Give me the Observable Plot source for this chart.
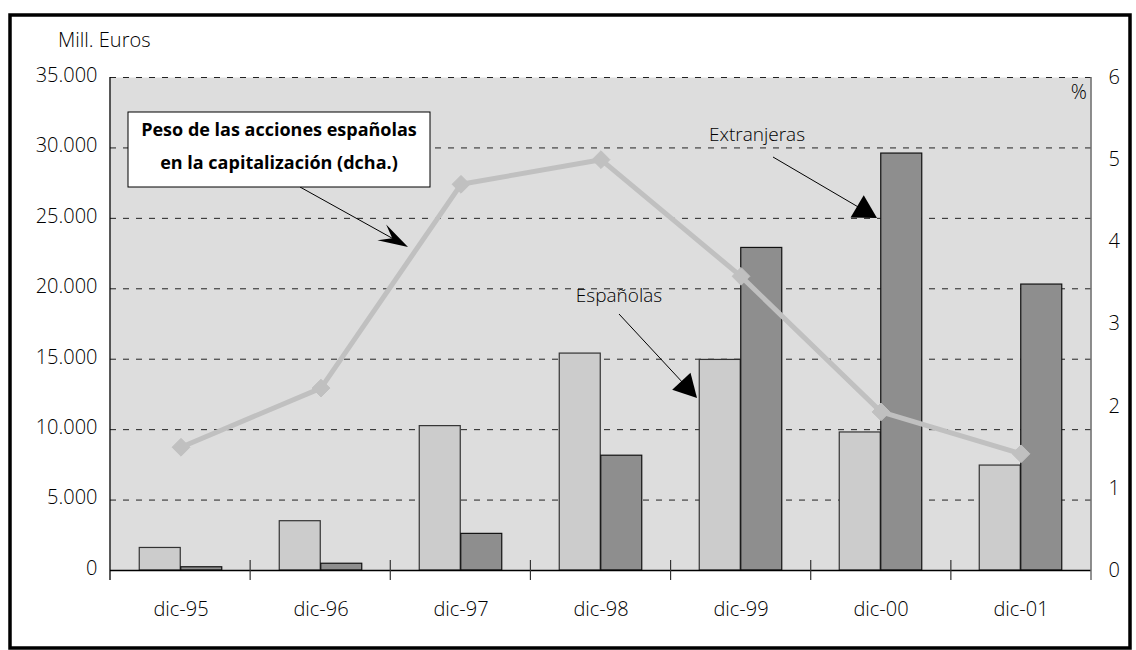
<!DOCTYPE html>
<html>
<head>
<meta charset="utf-8">
<script src="https://cdn.jsdelivr.net/npm/d3@7"></script>
<script src="https://cdn.jsdelivr.net/npm/@observablehq/plot@0.6"></script>
<style>
  html, body { margin: 0; padding: 0; background: #ffffff; }
  #chart { width: 1136px; height: 650px; }
  #chart svg { display: block; }
</style>
</head>
<body>
<div id="chart"></div>
<script>
// ---- Data ----
const categories = ["dic-95", "dic-96", "dic-97", "dic-98", "dic-99", "dic-00", "dic-01"];
const espanolas  = [1600, 3500, 10250, 15400, 14950, 9800, 7450];      // Mill. Euros
const extranjeras = [230, 480, 2600, 8150, 22900, 29600, 20300];       // Mill. Euros
const pesoEsp    = [1.50, 2.22, 4.70, 5.00, 3.58, 1.93, 1.42];          // % (right axis)
const leftTicks  = [0, 5000, 10000, 15000, 20000, 25000, 30000, 35000];
const rightTicks = [0, 1, 2, 3, 4, 5, 6];

const leftMax = 35000, rightMax = 6;
const ratio = leftMax / rightMax; // maps right-axis % onto the left scale

const rows = categories.map((c, i) => ({cat: c, esp: espanolas[i], ext: extranjeras[i], peso: pesoEsp[i]}));

const esLocale = d3.formatLocale({decimal: ",", thousands: ".", grouping: [3], currency: ["", " €"]});
const fmtLeft = esLocale.format(",.0f");

const FONT = "'Open Sans', 'Noto Sans', sans-serif";

// ---- Decorations: frame, plot borders, category ticks, annotations ----
function overlay(index, scales, values, dim) {
  const g = d3.create("svg:g");
  const L = dim.marginLeft, R = dim.width - dim.marginRight;
  const T = dim.marginTop, B = dim.height - dim.marginBottom;
  // outer frame
  g.append("rect").attr("x", 10).attr("y", 15).attr("width", 1120).attr("height", 633)
    .attr("fill", "none").attr("stroke", "#000").attr("stroke-width", 3.5);
  // plot borders
  g.append("line").attr("x1", L).attr("x2", L).attr("y1", T).attr("y2", B + 10)
    .attr("stroke", "#000").attr("stroke-width", 1.3);
  g.append("line").attr("x1", R).attr("x2", R).attr("y1", T).attr("y2", B + 10)
    .attr("stroke", "#6e6e6e").attr("stroke-width", 1.5);
  // category separator ticks (cross)
  const n = categories.length, step = (R - L) / n;
  for (let i = 1; i < n; i++) {
    const x = L + i * step;
    g.append("line").attr("x1", x).attr("x2", x).attr("y1", B - 10).attr("y2", B + 10)
      .attr("stroke", "#333").attr("stroke-width", 1.2);
  }
  // arrows
  function arrow(x1, y1, x2, y2, len, hw, stealth) {
    const dx = x2 - x1, dy = y2 - y1, d = Math.hypot(dx, dy);
    const ux = dx / d, uy = dy / d, px = -uy, py = ux;
    const bx = x2 - ux * len, by = y2 - uy * len;
    g.append("line").attr("x1", x1).attr("y1", y1).attr("x2", x2 - ux * len * 0.6).attr("y2", y2 - uy * len * 0.6)
      .attr("stroke", "#000").attr("stroke-width", 1);
    let pts;
    if (stealth) {
      const nx = x2 - ux * len * 0.6, ny = y2 - uy * len * 0.6;
      pts = [[x2, y2], [bx + px * hw, by + py * hw], [nx, ny], [bx - px * hw, by - py * hw]];
    } else {
      pts = [[x2, y2], [bx + px * hw, by + py * hw], [bx - px * hw, by - py * hw]];
    }
    g.append("polygon").attr("points", pts.map(p => p.join(",")).join(" ")).attr("fill", "#000");
  }
  arrow(300, 187, 408, 247, 30, 9, true);
  arrow(619, 314, 697, 398, 23, 12.5, false);
  arrow(773, 157, 877, 218, 23, 13, false);

  // callout box
  g.append("rect").attr("x", 128).attr("y", 112).attr("width", 302).attr("height", 75)
    .attr("fill", "#fff").attr("stroke", "#000").attr("stroke-width", 1);
  const box = g.append("text").attr("font-family", FONT).attr("font-weight", "bold")
    .attr("font-size", 18).attr("text-anchor", "middle").attr("fill", "#000");
  box.append("tspan").attr("x", 279).attr("y", 130).attr("dy", "0.35em").text("Peso de las acciones españolas");
  box.append("tspan").attr("x", 279).attr("y", 163).attr("dy", "0.35em").text("en la capitalización (dcha.)");

  const txt = (x, y, s, anchor, size) => g.append("text").attr("x", x).attr("y", y).attr("dy", "0.35em")
    .attr("font-family", FONT).attr("font-weight", 300).attr("font-size", size)
    .attr("text-anchor", anchor).attr("fill", "#000").text(s);
  txt(757, 134, "Extranjeras", "middle", 19);
  txt(619, 295, "Españolas", "middle", 19);
  txt(1087, 92, "%", "end", 20);
  txt(58, 40, "Mill. Euros", "start", 20);
  return g.node();
}

const chart = Plot.plot({
  width: 1136,
  height: 650,
  marginLeft: 110,
  marginRight: 45,
  marginTop: 77,
  marginBottom: 80,
  style: {fontFamily: FONT, fontSize: "20px", fontWeight: 300, background: "#fff", color: "#000"},
  x: {type: "band", domain: categories, paddingInner: 0.704, paddingOuter: 0.352, align: 0.5, label: null},
  y: {domain: [0, leftMax], label: null},
  marks: [
    Plot.frame({fill: "#dddddd", stroke: null}),
    Plot.ruleY(leftTicks.filter(d => d > 0), {stroke: "#222", strokeWidth: 1, strokeDasharray: "6,7"}),
    Plot.barY(rows, {x: "cat", y: "esp", dx: -20.75, fill: "#cccccc", stroke: "#333", strokeWidth: 1.2}),
    Plot.barY(rows, {x: "cat", y: "ext", dx: 20.75, fill: "#8e8e8e", stroke: "#111", strokeWidth: 1.2}),
    Plot.line(rows, {x: "cat", y: d => d.peso * ratio, stroke: "#c0c0c0", strokeWidth: 5, strokeLinejoin: "miter"}),
    Plot.dot(rows, {x: "cat", y: d => d.peso * ratio, symbol: "diamond2", r: 8, fill: "#c0c0c0", stroke: "#c0c0c0", strokeWidth: 1}),
    Plot.ruleY([0], {stroke: "#000", strokeWidth: 1.3}),
    Plot.axisY({anchor: "left", ticks: leftTicks, tickFormat: fmtLeft, tickSize: 0, tickPadding: 13, dy: -2, label: null, fontSize: 20}),
    Plot.axisY({anchor: "right", ticks: rightTicks.map(v => v * ratio), tickFormat: d => String(Math.round(d / ratio)), tickSize: 0, tickPadding: 17, label: null, fontSize: 20}),
    Plot.axisX({tickSize: 0, tickPadding: 31, label: null, fontSize: 20}),
    overlay
  ]
});
document.getElementById("chart").appendChild(chart);
</script>
</body>
</html>
